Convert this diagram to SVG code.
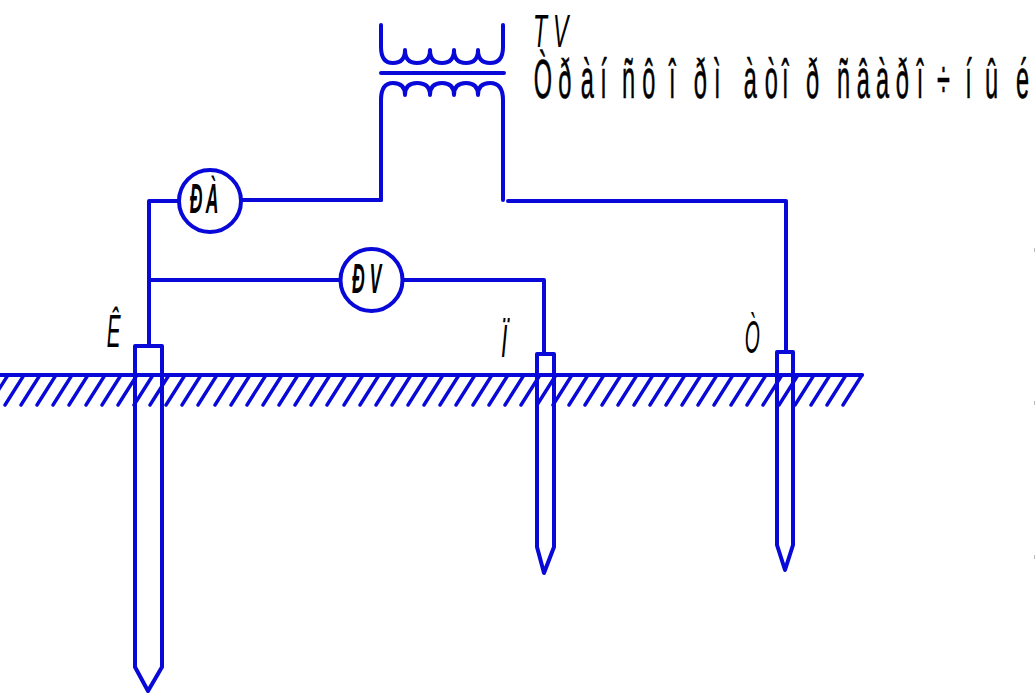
<svg xmlns="http://www.w3.org/2000/svg" width="1035" height="693" viewBox="0 0 1035 693">
<style>
.w{fill:none;stroke:#0808d8;stroke-width:4;stroke-linejoin:round;stroke-linecap:round}
.h{fill:none;stroke:#0808d8;stroke-width:3.4;stroke-linecap:round}
.t{font-family:"Liberation Sans",Arial,sans-serif;fill:#000}
.i{font-style:italic}
.s{stroke:#000;stroke-width:.6}
.m{fill:#bbb}
</style>
<rect width="1035" height="693" fill="#fff"/>
<g id="ground">
<path class="w" d="M0 375H862"/>
<path class="h" d="M-11 405l19-30M5 405l19-30M21 405l19-30M37 405l19-30M53 405l19-30M69 405l19-30M86 405l19-30M102 405l19-30M118 405l19-30M134 405l19-30M150 405l19-30M166 405l19-30M182 405l19-30M198 405l19-30M215 405l19-30M231 405l19-30M247 405l19-30M263 405l19-30M279 405l19-30M295 405l19-30M311 405l19-30M327 405l19-30M344 405l19-30M360 405l19-30M376 405l19-30M392 405l19-30M408 405l19-30M424 405l19-30M440 405l19-30M456 405l19-30M473 405l19-30M489 405l19-30M505 405l19-30M521 405l19-30M537 405l19-30M553 405l19-30M569 405l19-30M585 405l19-30M602 405l19-30M618 405l19-30M634 405l19-30M650 405l19-30M666 405l19-30M682 405l19-30M698 405l19-30M714 405l19-30M731 405l19-30M747 405l19-30M763 405l19-30M779 405l19-30M795 405l19-30M811 405l19-30M827 405l19-30M843 405l19-30"/>
</g>
<g id="connectors">
<path class="w" d="M381 200H242M179 201H149V346"/>
<path class="w" d="M149 280H340M403 280H544V354"/>
<path class="w" d="M508 201H786V352"/>
</g>
<g id="transformer">
<path class="w" d="M381 25V47Q381 63 393 63Q405 63 405 50Q405 63 417 63Q430 63 430 50Q430 63 442 63Q454 63 454 50Q454 63 466 63Q478 63 478 50Q478 63 490 63Q503 63 503 47V25"/>
<path class="w" d="M381 73H504"/>
<path class="w" d="M381 200V100Q381 83 393 83Q405 83 405 95Q405 83 417 83Q430 83 430 95Q430 83 442 83Q454 83 454 95Q454 83 466 83Q478 83 478 95Q478 83 490 83Q503 83 503 100V200"/>
<text class="t i" transform="translate(0,47) scale(.5,1)" x="1066 1106" y="0" font-size="46">TV</text>
<text class="t s" transform="translate(0,97.500) scale(.42,1)" x="1271 1329 1383 1429 1481 1481 1529 1593 1593 1652 1652 1700 1771 1771 1821 1862 1919 1919 1993 1993 2040 2086 2133 2183 2231 2231 2298 2345 2345 2419 2419" y="0" font-size="56" xml:space="preserve">Òðàí ñô î ðì àòî ð ñâàðî ÷í û é</text>
</g>
<g id="meter-a">
<circle class="w" cx="210" cy="201" r="31"/>
<text class="t i" transform="translate(0,213) scale(.42,1)" x="452 490" y="0" font-size="42" font-weight="bold">ÐÀ</text>
</g>
<g id="meter-v">
<circle class="w" cx="371.500" cy="280" r="31"/>
<text class="t i" transform="translate(0,293) scale(.42,1)" x="838 880" y="0" font-size="42" font-weight="bold">ÐV</text>
</g>
<g id="electrode-e">
<path class="w" d="M135 346H162V667L148 691L135 667Z"/>
<text class="t i" transform="translate(0,347) scale(.45,1)" x="237" y="0" font-size="46">Ê</text>
</g>
<g id="electrode-p">
<path class="w" d="M537 354H554V547L544 573L537 547Z"/>
<text class="t i" transform="translate(0,357) scale(.5,1)" x="1002" y="0" font-size="46">Ï</text>
</g>
<g id="electrode-t">
<path class="w" d="M777 352H793V545L785 570L777 545Z"/>
<text class="t i" transform="translate(0,353) scale(.42,1)" x="1773" y="0" font-size="46">Ò</text>
</g>
<g id="edge-marks">
<rect class="m" x="1034" y="248" width="1" height="4"/>
<rect class="m" x="1034" y="401" width="1" height="4"/>
<rect class="m" x="1034" y="555" width="1" height="4"/>
</g>
</svg>
